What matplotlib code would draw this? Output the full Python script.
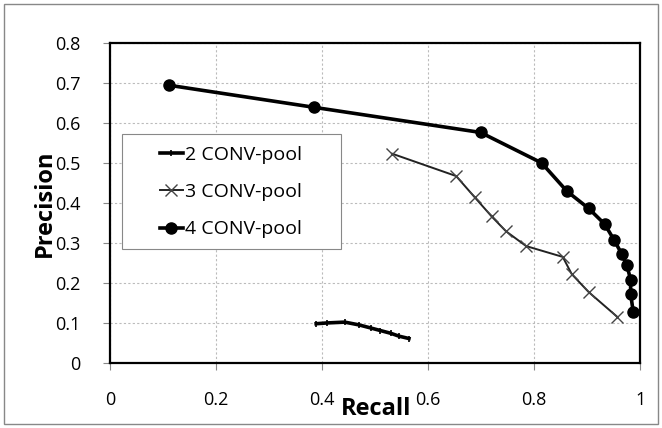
import matplotlib
matplotlib.use('Agg')
import matplotlib.pyplot as plt
from matplotlib.patches import Rectangle

# recall / precision
recall_2 = [0.389, 0.41, 0.443, 0.47, 0.493, 0.51, 0.53, 0.545, 0.564]
prec_2 = [0.098, 0.100, 0.102, 0.095, 0.087, 0.081, 0.074, 0.067, 0.061]

recall_3 = [0.532, 0.653, 0.688, 0.720, 0.747, 0.785, 0.854, 0.871, 0.903, 0.957]
prec_3 = [0.523, 0.467, 0.414, 0.366, 0.329, 0.292, 0.265, 0.222, 0.177, 0.115]

recall_4 = [0.111, 0.384, 0.699, 0.814, 0.862, 0.903, 0.933, 0.951, 0.965,
            0.975, 0.982, 0.982, 0.987]
prec_4 = [0.694, 0.639, 0.576, 0.500, 0.429, 0.386, 0.347, 0.307, 0.273,
          0.244, 0.208, 0.173, 0.127]

labels = ['2 CONV-pool', '3 CONV-pool', '4 CONV-pool']

plt.rcParams['font.family'] = ['Open Sans', 'DejaVu Sans']

fig = plt.figure(figsize=(6.62, 4.28), dpi=100)
ax = fig.add_axes([0.166, 0.152, 0.801, 0.748])

ax.plot(recall_2, prec_2, color='black', lw=2.6, marker='|', ms=5, mew=1.2,
        label=labels[0])
ax.plot(recall_3, prec_3, color='#222222', lw=1.4, marker='x', ms=8, mew=1.0,
        mec='#444444', label=labels[1])
ax.plot(recall_4, prec_4, color='black', lw=2.6, marker='o', ms=8,
        label=labels[2])

ax.set_xlim(0, 1)
ax.set_ylim(0, 0.8)
ax.set_xticks([0, 0.2, 0.4, 0.6, 0.8, 1])
ax.set_xticklabels(['0', '0.2', '0.4', '0.6', '0.8', '1'])
ax.set_yticks([i / 10 for i in range(9)])
ax.set_yticklabels(['0', '0.1', '0.2', '0.3', '0.4', '0.5', '0.6', '0.7', '0.8'])
ax.tick_params(labelsize=13, length=5, color='#888888')
ax.tick_params(axis='x', pad=15)
ax.tick_params(axis='y', pad=16)

ax.grid(True, color='#bbbbbb', linestyle=(0, (2, 2)), linewidth=0.8)
ax.set_axisbelow(True)
for s in ax.spines.values():
    s.set_linewidth(1.6)
    s.set_color('black')

ax.set_xlabel('Recall', fontsize=17, fontweight='bold')
ax.set_ylabel('Precision', fontsize=17, fontweight='bold')
ax.xaxis.set_label_coords(0.502, -0.105)
ax.yaxis.set_label_coords(-0.10, 0.5)

# legend box drawn separately so the side padding can be wider than the top
ax.add_patch(Rectangle((0.0226, 0.356), 0.413, 0.36, transform=ax.transAxes,
                       facecolor='white', edgecolor='#888888', linewidth=0.8,
                       zorder=4))
leg = ax.legend(loc='center left', bbox_to_anchor=(0.094, 0.534), fontsize=14,
                frameon=False, borderpad=0, labelspacing=1.0,
                handlelength=1.2, handletextpad=0.1, borderaxespad=0)
leg.set_zorder(5)

fig.patches.append(Rectangle((0.006, 0.009), 0.988, 0.982, transform=fig.transFigure,
                             fill=False, edgecolor='#888888', linewidth=1.0))

fig.savefig('out.png', dpi=100)
